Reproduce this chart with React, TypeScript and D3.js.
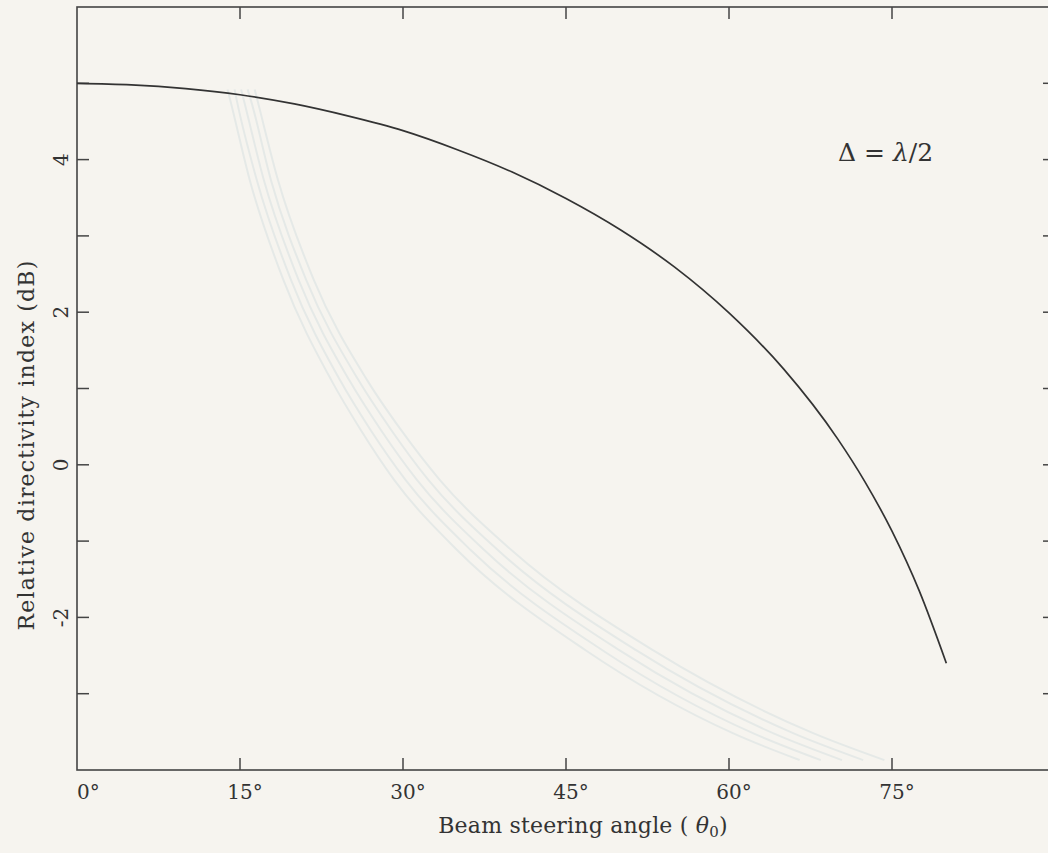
import React, { useEffect, useRef } from 'react';
import * as d3 from 'd3';

// steering angle (deg) and relative directivity index (dB) of the dark curve
const angles = [0, 5, 10, 15, 20, 25, 30, 35, 40, 45, 50, 55, 60, 65, 70, 72.5, 75, 77.5, 80];
const directivity = [5.0, 4.98, 4.93, 4.85, 4.73, 4.57, 4.38, 4.13, 3.84, 3.49, 3.08, 2.59, 1.99, 1.26, 0.34, -0.22, -0.87, -1.65, -2.6];

// faint show-through curves: angle at which each one crosses these dB levels
const ghostLevels = [4.92, 4.78, 3.73, 2.42, 1.11, 0.46, -0.2, -1.12, -2.43, -3.52, -3.87];
const ghostAngles = [
  [13.85, 14.1, 15.9, 19.0, 23.4, 26.1, 29.2, 35.0, 46.8, 60.4, 66.5],
  [14.5, 14.7, 16.55, 19.7, 24.2, 27.0, 30.25, 36.25, 48.35, 62.25, 68.45],
  [15.1, 15.35, 17.2, 20.4, 25.05, 27.95, 31.3, 37.5, 49.9, 64.1, 70.4],
  [15.7, 16.0, 17.85, 21.1, 25.9, 28.9, 32.35, 38.75, 51.45, 65.95, 72.35],
  [16.35, 16.6, 18.5, 21.8, 26.7, 29.8, 33.4, 40.0, 53.0, 67.8, 74.3]
];

const xTicks = [15, 30, 45, 60, 75];
const xLabels = [0, 15, 30, 45, 60, 75];
const yTicks = [-3, -2, -1, 0, 1, 2, 3, 4, 5];
const yLabels = [-2, 0, 2, 4];

const W = 1048;
const H = 853;

export default function App() {
  const $svg = useRef(null);

  useEffect(() => {
    const svg = d3.select($svg.current);
    svg.selectAll('*').remove();

    const frame = { left: 77, right: 1055, top: 7, bottom: 770 };
    const x = d3.scaleLinear().domain([0, 90]).range([frame.left, frame.right]);
    const y = d3.scaleLinear().domain([-4, 6]).range([frame.bottom, frame.top]);
    const ink = '#333333';
    const font = '"DejaVu Serif", "Liberation Serif", serif';

    svg.append('rect').attr('width', W).attr('height', H).attr('fill', '#f6f4ef');

    // ghost curves
    const ghostLine = d3
      .line()
      .x(d => x(d[0]))
      .y(d => y(d[1]))
      .curve(d3.curveMonotoneX);
    svg
      .append('g')
      .selectAll('path')
      .data(ghostAngles.map(a => a.map((v, i) => [v, ghostLevels[i]])))
      .enter()
      .append('path')
      .attr('d', ghostLine)
      .attr('fill', 'none')
      .attr('stroke', '#e5e9e7')
      .attr('stroke-width', 2);

    // frame
    svg
      .append('rect')
      .attr('x', frame.left)
      .attr('y', frame.top)
      .attr('width', frame.right - frame.left)
      .attr('height', frame.bottom - frame.top)
      .attr('fill', 'none')
      .attr('stroke', '#444')
      .attr('stroke-width', 1.6);

    const tickLen = 12;
    const ticks = svg.append('g').attr('stroke', '#444').attr('stroke-width', 1.5);
    xTicks.forEach(t => {
      ticks.append('line').attr('x1', x(t)).attr('x2', x(t)).attr('y1', frame.bottom).attr('y2', frame.bottom - tickLen);
      ticks.append('line').attr('x1', x(t)).attr('x2', x(t)).attr('y1', frame.top).attr('y2', frame.top + tickLen);
    });
    yTicks.forEach(t => {
      ticks.append('line').attr('x1', frame.left).attr('x2', frame.left + tickLen).attr('y1', y(t)).attr('y2', y(t));
      ticks.append('line').attr('x1', frame.right).attr('x2', frame.right - tickLen).attr('y1', y(t)).attr('y2', y(t));
    });

    // x tick labels
    svg
      .append('g')
      .selectAll('text')
      .data(xLabels)
      .enter()
      .append('text')
      .attr('x', d => (d === 0 ? x(d) : x(d) + 5))
      .attr('y', 799)
      .attr('text-anchor', d => (d === 0 ? 'start' : 'middle'))
      .attr('font-family', font)
      .attr('font-size', 20)
      .attr('fill', ink)
      .text(d => `${d}°`);

    // y tick labels, rotated like the original
    svg
      .append('g')
      .selectAll('text')
      .data(yLabels)
      .enter()
      .append('text')
      .attr('transform', d => `translate(68,${y(d)}) rotate(-90)`)
      .attr('text-anchor', 'middle')
      .attr('font-family', font)
      .attr('font-size', 20)
      .attr('fill', ink)
      .text(d => d);

    // axis titles
    const xt = svg
      .append('text')
      .attr('x', 583)
      .attr('y', 833)
      .attr('text-anchor', 'middle')
      .attr('font-family', font)
      .attr('font-size', 22)
      .attr('letter-spacing', 0.2)
      .attr('fill', ink);
    xt.append('tspan').text('Beam steering angle ( ');
    xt.append('tspan').attr('font-style', 'italic').text('θ');
    xt.append('tspan').attr('font-size', 15).attr('dy', 4).text('0');
    xt.append('tspan').attr('dy', -4).text(')');

    svg
      .append('text')
      .attr('transform', 'translate(34,445) rotate(-90)')
      .attr('text-anchor', 'middle')
      .attr('font-family', font)
      .attr('font-size', 22)
      .attr('letter-spacing', 1.2)
      .attr('fill', ink)
      .text('Relative directivity index (dB)');

    // annotation
    const note = svg
      .append('text')
      .attr('x', 838)
      .attr('y', 161)
      .attr('font-family', font)
      .attr('font-size', 25)
      .attr('fill', ink);
    note.append('tspan').text('Δ = ');
    note.append('tspan').attr('font-style', 'italic').text('λ');
    note.append('tspan').text('/2');

    // main curve
    const line = d3
      .line()
      .x(d => x(d[0]))
      .y(d => y(d[1]))
      .curve(d3.curveMonotoneX);
    svg
      .append('path')
      .datum(angles.map((a, i) => [a, directivity[i]]))
      .attr('d', line)
      .attr('fill', 'none')
      .attr('stroke', '#333')
      .attr('stroke-width', 1.7);
  }, []);

  return (
    <svg
      ref={$svg}
      width={W}
      height={H}
      style={{ position: 'absolute', left: 0, top: 0, display: 'block' }}
    />
  );
}
